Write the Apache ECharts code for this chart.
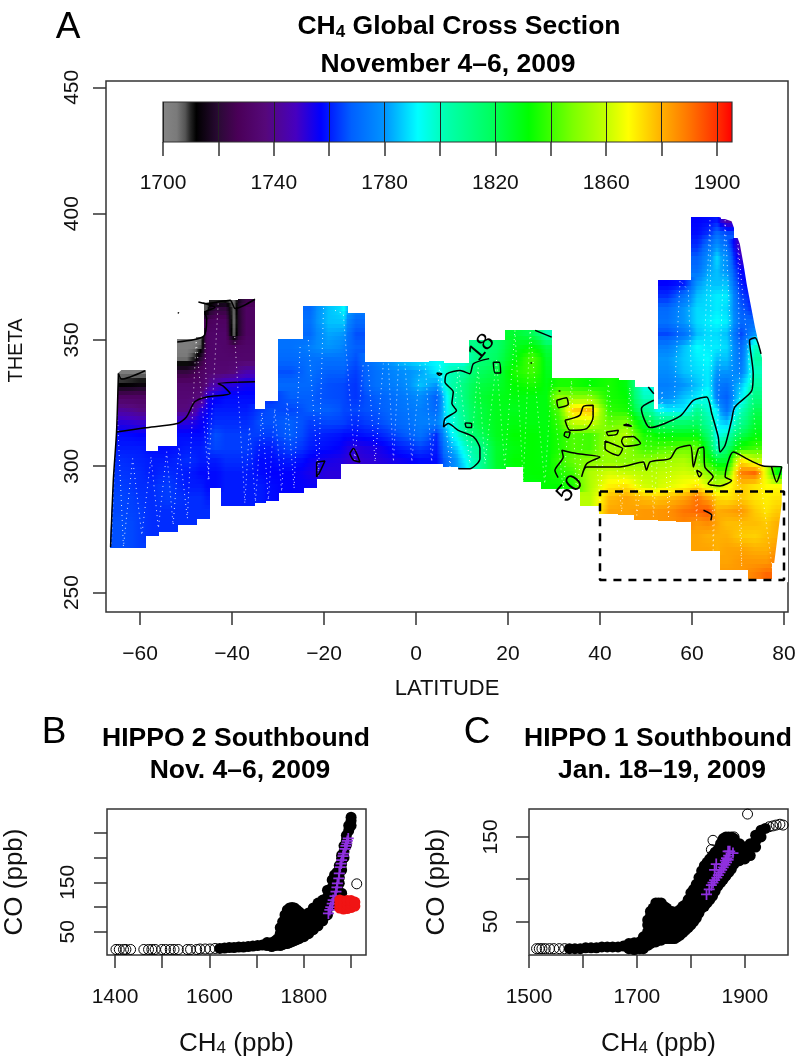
<!DOCTYPE html>
<html>
<head>
<meta charset="utf-8">
<style>html,body{margin:0;padding:0;background:#fff}#main{width:796px;height:1059px}</style>
<script src="https://cdn.jsdelivr.net/npm/echarts@6/dist/echarts.min.js"></script>
</head>
<body>
<div id="main"></div>
<script>
var FONT = '"Liberation Sans", Arial, sans-serif';

// colour scale of the CH4 section
var scaleLevels = [1700,1705,1708,1710,1712,1720,1727,1737,1748,1757,1768,1780,1792,1802,1818,1832,1848,1860,1868,1880,1890,1900,1905.4];
var scaleColors = ['#858585','#7a7a7a','#555555','#222222','#000000','#2a0a35','#4a0058','#56087a','#4600c0','#0000ff','#0060ff','#0094ff','#00ffff','#00ffb0','#00ff60','#00ff00','#7cff00','#c4ff00','#ffff00','#ffb000','#ff7400','#ff3000','#ff0000'];
var scaleTicks = [1700,1720,1740,1760,1780,1800,1820,1840,1860,1880,1900];
var scaleLabels = [1700,1740,1780,1820,1860,1900];

var latTicks = [-60,-40,-20,0,20,40,60,80];
var thetaTicks = [250,300,350,400,450];

// section columns: latitude edges, lower/upper theta limit, CH4 per 5 K band from floor(bottom/5)*5
var colEdges = [-66.5,-61.4,-58.8,-56,-51.9,-47.8,-45.9,-44.9,-42.3,-40.5,-38.5,-35,-32.8,-29.9,-24.5,-21.7,-16.5,-14.9,-11.3,-6,-1,3,5.9,9.2,11.7,15.5,19.5,23.3,27.3,29.5,32.5,35.7,40,44,47.5,51.6,52.7,56.7,59.8,62.2,64.6,66.1,69,72.2,75.2,77.3,79.6];
var colBottom = [267.7,268,272.7,274,277,279.4,279.4,291.7,284.6,284.6,284.6,285.5,286.5,289.5,291.5,295,301,301,301,301,301,301,299.7,299,299,299,299.7,293.8,291,291,291,284.6,281.3,281,279,279,278.7,278,266.8,266.8,266.8,259,259,255.6,255.6,262];
var colTop = [338,338,306,308,350,351,364,365.6,365.6,365.6,366,322.5,325.8,350,363.4,363.4,363.4,360.6,341,341,341,341.5,340.6,340.6,349.6,349.6,353.8,353.8,353.8,334.8,334.8,334.8,334.8,334,331,322.5,373.6,373.6,398.4,398.4,398.4,397.5,390,374,300,300];
var ch4Columns = [
[1766,1766,1766,1765,1765,1764,1763,1762,1760,1758,1752,1742,1730,1712,1704],
[1764,1764,1764,1764,1763,1762,1762,1761,1760,1757,1750,1738,1730,1714,1704],
[1762,1762,1762,1762,1762,1760,1760,1758],
[1762,1762,1762,1764,1764,1762,1760,1758],
[1762,1762,1762,1760,1760,1762,1760,1758,1752,1738,1735,1733,1722,1706,1703],
[1762,1762,1762,1760,1758,1760,1760,1758,1756,1752,1738,1732,1730,1720,1708,1704],
[1762,1762,1760,1758,1758,1760,1762,1760,1758,1755,1752,1738,1733,1732,1730,1730,1726,1708],
[1758,1758,1760,1765,1766,1762,1760,1756,1745,1735,1733,1733,1732,1730,1722,1704],
[1760,1760,1760,1760,1762,1764,1764,1762,1760,1758,1752,1735,1733,1732,1732,1730,1722,1706],
[1760,1760,1760,1760,1762,1764,1764,1762,1760,1758,1752,1737,1733,1730,1706,1705,1706,1706],
[1760,1760,1760,1760,1762,1764,1764,1762,1760,1758,1755,1745,1733,1732,1730,1730,1730,1722],
[1760,1760,1758,1758,1760,1764,1766,1764],
[1758,1758,1757,1758,1760,1764,1766,1766,1762],
[1757,1757,1757,1760,1765,1768,1768,1765,1768,1770,1766,1770,1772],
[1756,1754,1756,1760,1762,1764,1768,1768,1770,1772,1772,1775,1770,1772,1770],
[1752,1754,1758,1760,1765,1768,1766,1766,1768,1772,1780,1782,1785,1785],
[1752,1755,1758,1764,1765,1765,1765,1768,1772,1775,1780,1786,1792],
[1750,1752,1758,1762,1765,1763,1763,1764,1766,1768,1766,1770,1775],
[1752,1754,1760,1765,1767,1768,1772,1772,1775],
[1755,1760,1766,1770,1772,1773,1776,1778,1785],
[1758,1764,1772,1775,1775,1778,1785,1782,1790],
[1758,1760,1762,1775,1770,1768,1780,1790,1792],
[1778,1775,1782,1790,1795,1798,1800,1803,1802,1795],
[1785,1790,1796,1805,1808,1810,1812,1812,1805,1795],
[1805,1805,1808,1818,1822,1822,1824,1822,1818,1812,1810],
[1825,1826,1826,1828,1828,1828,1828,1825,1822,1818,1816],
[1830,1832,1830,1832,1830,1828,1830,1832,1835,1830,1828,1825],
[1830,1832,1832,1832,1832,1830,1830,1830,1835,1840,1842,1832,1820],
[1832,1832,1830,1830,1830,1830,1830,1830,1830,1828,1826,1822,1802],
[1832,1835,1838,1835,1835,1838,1842,1852,1835],
[1835,1840,1845,1842,1842,1860,1875,1850,1835],
[1858,1858,1856,1856,1850,1840,1840,1862,1878,1850,1832],
[1882,1878,1870,1862,1852,1855,1852,1845,1838,1835,1835],
[1882,1882,1872,1860,1850,1852,1858,1848,1835,1832,1830],
[1884,1884,1878,1862,1858,1850,1840,1835,1825,1810,1800,1795],
[1884,1884,1876,1860,1858,1852,1840,1832,1815,1795],
[1885,1885,1878,1864,1860,1854,1842,1830,1815,1790,1778,1775,1778,1780,1775,1765,1772,1770,1762,1757],
[1887,1890,1882,1868,1862,1856,1845,1830,1815,1790,1785,1780,1785,1786,1785,1772,1780,1780,1772,1760],
[1882,1882,1884,1892,1890,1872,1860,1848,1845,1830,1818,1808,1790,1785,1788,1790,1792,1785,1788,1788,1785,1780,1772,1768,1762,1758,1757],
[1882,1880,1886,1895,1882,1864,1850,1835,1825,1815,1805,1798,1795,1790,1790,1792,1790,1788,1790,1788,1788,1785,1782,1778,1772,1762,1758],
[1880,1880,1882,1880,1874,1858,1842,1825,1800,1792,1792,1790,1775,1775,1780,1785,1790,1788,1792,1790,1790,1785,1785,1788,1780,1770,1760],
[1884,1882,1882,1880,1878,1882,1872,1866,1842,1825,1815,1800,1785,1772,1768,1772,1780,1785,1788,1785,1790,1788,1790,1785,1780,1778,1772,1765,1745],
[1884,1884,1882,1876,1878,1884,1876,1876,1888,1872,1835,1820,1808,1800,1790,1785,1775,1772,1770,1765,1770,1768,1765,1760,1757,1750,1745],
[1888,1884,1880,1875,1878,1876,1872,1872,1892,1860,1840,1830,1825,1820,1812,1805,1800,1805,1800,1780,1770,1760,1757,1752],
[1892,1884,1880,1878,1876,1872,1870,1868,1862],
[1888,1884,1880,1880,1876,1872,1868,1830]
];

// parts of the columns where the section edge slants
var sectionEdges = [
[[64.6,399.5],[68.6,397],[70.4,388],[71.2,380],[71.9,372],[73.7,355],[75.2,343],[75.6,343],[75.6,402],[64.6,402]],
[[79.6,301],[79.5,285],[77.4,255],[81,254],[81,301]],
[[-66.6,267],[-65.8,294.5],[-65.1,313.6],[-64.7,337],[-63.5,339],[-67,339],[-67,267]]
];

// contour lines
var contours = [
[[15.9,342.6],[12.5,340.6],[11.7,336.6],[9.6,337.9],[6.7,336.6],[6.3,333.3],[8.1,329.4],[7.8,324.8],[8.8,322.1],[6.3,318.8],[6,315.5],[7,316.9],[9.2,314.2],[12.5,311.6],[13.9,307],[13.9,303],[11.7,299],[9.2,299]],
[[51.7,326.1],[49,322.8],[50.9,315.3],[57.4,319.8],[60.3,326.1],[63.2,327.4],[64.3,320.8],[65.7,311.6],[66.1,305.6],[67.2,308.3],[68.6,318.2],[69.3,323.4],[73,330],[73.3,336.6],[72.5,349.8],[73.7,350.9],[75,344.5]],
[[30.9,295.5],[30.2,298.4],[32,303.7],[31.7,306.3],[34.9,305],[40,303.7],[37.1,301],[36,295.8],[37.1,299.7],[44.3,299.7],[49.4,301.7],[50.1,298.4],[50.9,301.7],[55.2,303],[56.7,307],[59.6,308.3],[60.3,299.7],[61.4,307],[62.5,307.6],[62.8,299.7],[64.6,295.8],[63.5,293.1],[66.1,292.2],[68.6,294.4],[67.2,295.8],[69,305.6],[72.6,302.3],[75.5,300.1],[79.5,299.7],[78.4,293.8],[77.3,299.7]],
[[30.6,326.1],[32.7,327.1],[33.1,324.5],[31,323.2],[30.6,326.1]],
[[32.4,318.2],[35.6,320.1],[36.4,323.7],[38.5,324.1],[38.5,319.5],[37.1,314.9],[33.5,314.2],[32.4,318.2]],
[[32.4,313.6],[33.5,313.6],[33.1,311.3],[32.2,312.2],[32.4,313.6]],
[[41.4,313.6],[44,314.2],[43.6,312.6],[41.8,312.2],[41.4,313.6]],
[[45.1,311.6],[47.2,311.8],[48.8,309],[45.4,307.9],[44.7,310],[45.1,311.6]],
[[41.1,310],[44,307.9],[44.9,307],[44,304.3],[41.1,307],[41.1,310]],
[[45.1,316.2],[46.9,315.8],[45.8,316.6],[45.1,316.2]],
[[16.8,341.2],[18.1,341.2],[18.4,336.9],[17.2,336.9],[16.8,341.2]],
[[10.7,317.1],[12.1,316.9],[12.1,315.3],[10.9,315.5],[10.7,317.1]],
[[4.5,336.9],[5.6,336.6],[5.1,336],[4.5,336.9]],
[[61,298.4],[62.1,297],[61.6,295.8],[61,298.4]],
[[62.5,282.6],[64.3,280.6],[64.1,278.6]],
[[50.5,331.4],[51.7,328.7]],
[[25.9,353.8],[29.5,351.1]],
[[-65.1,313.6],[-58.9,315.2],[-51.9,316.9],[-49.9,319.5],[-48.1,325.5],[-45.5,327.4],[-40.4,328.8],[-41.9,331.7],[-43,332.7],[-35,333.4]],
[[-64.7,336.7],[-65.1,313.6],[-65.8,294.5],[-66.4,268]],
[[-51.9,349.2],[-46.2,351.4],[-45.5,358.4],[-45.9,361],[-43.7,362.8],[-47.3,365],[-45.5,364.4],[-40.4,365.7],[-39.3,362.4],[-35,366.1]],
[[-64.7,336.7],[-64,334.5],[-58.9,337.8]],
[[-21.6,301.7],[-19.8,302.1],[-20.9,297.8],[-21.6,295.8],[-21.6,301.7]],
[[-14.4,305],[-13.6,307],[-12.2,301.7],[-13.6,302.4],[-14.4,305]],
[[-51.8,360.8],[-51.5,360.6]],
[[24.9,340.9],[25.2,340.9]],
[[31,329.8],[31.4,329.8]]
];
var contourLabels = [
{lat:14.3, theta:347, text:'18', rot:50},
{lat:33.5, theta:291.1, text:'50', rot:50}
];

// aircraft profiles (dotted white)
var flightTrack = [[-66.2,269.4],[-65,323.5],[-63.6,268.1],[-61.6,303],[-59.6,272.7],[-57.6,303.7],[-56,275.4],[-54.2,305.7],[-52.8,276.7],[-51.5,307.7],[-49.7,279.3],[-47.8,349.9],[-45,294.5],[-45.9,349.9],null,[-43,364.4],[-45.2,294.5],null,[-39.4,351.2],[-37.2,285.3],[-36.2,315.6],[-34.9,285.9],[-33.5,321.5],[-32.1,286.6],[-30.7,322.8],[-29.2,289.9],[-28,325.5],[-26.5,291.2],[-25.2,347.2],null,[-23.4,349.9],[-21.2,295.8],[-20.1,363],null,[-17.6,361.7],[-15.8,360.4],[-13.3,302.4],[-11.5,340],null,[-10.4,340],[-8.9,301.7],[-7.1,340.6],null,[-6,340.6],[-4.9,301.7],[-3.8,340.6],null,[-2.4,340.6],[-0.9,301.7],[0.9,340.6],null,[2,340.6],[3.4,301.7],[5.2,340.6],[7.4,299.7],[9.2,339.3],[11.7,301],[13.5,339],[15,301],[17.5,342],[19.3,299.7],[21.5,353.8],[23.3,293.8],[24.8,353.8],[28,293],[29.5,334],[32,290.5],[33.8,334],[34.9,289],[37.8,334],[40,286.5],[41.8,332.7],[44.7,281.9],[46.5,331.4],[48,280.6],[50.9,320.8],[51.6,279.9],[53.5,330],[54.9,279.9],[57.4,373.6],[59.2,369.6],[61,278.6],[63.9,397.3],[64.6,266.7],[67.2,397.3],[70.8,260.2],[70,388],[74.5,300],[77.7,256.2]];

var boxLat = [40,80,80,40,40];
var boxTheta = [290,290,255,255,290];

// panel B
var bTicksX = [1400,1500,1600,1700,1800,1900];
var bLabelsX = [1400,1600,1800];
var bTicksY = [50,100,150,200,250];
var bLabelsY = [50,150];
var bOpen = [[1402,14],[1409,14],[1418,14],[1423,14],[1433,14],[1461,14],[1471,14],[1478,14],[1485,14],[1499,14],[1507,14],[1517,14],[1525,14],[1534,14],[1553,14],[1560,14],[1573,14],[1580,15],[1591,15],[1601,15],[1612,16],[1912,147]];
var bDense = [
[1622,[16]],[1632,[17]],[1642,[18]],[1652,[18]],[1662,[19]],[1672,[19]],[1682,[20]],[1692,[21]],[1702,[22]],[1712,[23]],[1722,[22,28]],[1732,[20,28]],
[1740,[22,32]],[1745,[24,36]],[1750,[22,34,46,58]],[1755,[24,36,48,60,70]],[1760,[26,38,50,62,74,84]],[1765,[26,38,50,62,74,86,94]],[1770,[28,40,52,64,76,88,98]],[1775,[30,42,54,66,78,90,99]],[1780,[32,44,56,68,80,92,98]],[1785,[34,46,58,70,82,94]],[1790,[36,48,60,72,84,90]],[1800,[40,52,64,76,84]],[1810,[46,58,70,82,88]],[1820,[54,66,78,90,98]],[1830,[62,74,86,98,108]],[1840,[72,84,96,108,114]],[1850,[84,96,108,120,134]],[1860,[104,116,128,140,155]],[1865,[114,126,138,150,165]],[1870,[120,130,142,154,170]],[1875,[128,148,160,172,184]],[1880,[128,175,187,199,205]],[1885,[200,212,224]],[1890,[225,235,245]],[1895,[255,265]],[1900,[265,275,282]]
];
var bPurple = [[1852,87],[1855,94],[1857,100],[1860,107],[1862,114],[1866,122],[1868,131],[1870,140],[1871,148],[1874,158],[1875,168],[1877,181],[1879,188],[1880,195],[1883,203],[1884,208],[1887,218],[1889,224],[1891,229],[1892,234],[1894,239]];
var bRed = [[1876,98],[1876,106],[1876,114],[1884,96],[1884,104],[1884,112],[1892,97],[1892,105],[1892,113],[1900,99],[1900,107],[1900,113],[1908,102],[1908,110]];

// panel C
var cTicksX = [1500,1600,1700,1800,1900];
var cLabelsX = [1500,1700,1900];
var cTicksY = [50,100,150];
var cLabelsY = [50,150];
var cOpen = [[1514,18],[1519,18],[1524,18],[1530,18],[1538,18],[1546,18],[1556,18],[1566,18],[1841,146],[1838,135],[1905,177],[1880,150],[1945,162],[1952,163],[1958,164],[1965,165],[1971,164]];
var cDense = [
[1575,[18]],[1585,[18]],[1595,[18]],[1605,[19]],[1615,[19]],[1625,[19]],[1635,[20]],[1645,[20]],[1655,[20]],[1665,[20]],[1675,[21]],[1685,[18,24]],[1695,[17,25]],[1705,[18,26]],[1712,[18,26,32]],
[1720,[22,30,38,46,52]],[1725,[24,32,40,48,56,62]],[1730,[26,34,42,50,58,66]],[1735,[26,34,42,50,58,66,72]],[1740,[28,36,44,52,60,68,72]],[1745,[28,36,44,52,60,68,72]],[1750,[30,38,46,54,62,68]],[1755,[30,66]],[1760,[30,38,46,54,62]],[1765,[30,62]],[1770,[30,38,46,54,60]],[1775,[32,62]],[1780,[34,42,50,58,64]],[1785,[37,68]],[1790,[40,48,56,64,70]],[1795,[43,76]],[1800,[46,54,62,70,78,84]],[1805,[50,88]],[1810,[54,62,70,78,86,94]],[1815,[60,102]],[1820,[66,74,82,90,98,110]],[1825,[68,116]],[1830,[72,80,88,96,104,112,120]],[1835,[76,124]],[1840,[80,88,96,104,112,120,128]],[1845,[86,132]],[1850,[92,100,108,116,124,135]],[1855,[96,142]],[1860,[100,108,116,124,132,140,148]],[1865,[104,150]],[1870,[108,116,124,132,140,150]],[1875,[112,150]],[1880,[118,126,134,142,148]],[1890,[122,130,138,142]],[1900,[124,132,138]],[1910,[128,136,142]],[1920,[138,145,152]],[1930,[150,158]],[1938,[160]]
];
var cPurple = [[1829,82],[1834,88],[1838,93],[1841,96],[1844,99],[1848,102],[1851,105],[1854,108],[1857,111],[1860,114],[1863,117],[1866,120],[1869,123],[1872,133],[1869,133],[1878,131],[1847,118],[1844,111],[1866,125],[1870,128],[1864,122],[1860,118]];

function valueColor(v) {
    var i = 0;
    while (i < scaleLevels.length - 2 && v > scaleLevels[i + 1]) i++;
    var f = (v - scaleLevels[i]) / (scaleLevels[i + 1] - scaleLevels[i]);
    f = Math.max(0, Math.min(1, f));
    var a = echarts.color.parse(scaleColors[i]), b = echarts.color.parse(scaleColors[i + 1]);
    return 'rgb(' + Math.round(a[0] + (b[0] - a[0]) * f) + ',' + Math.round(a[1] + (b[1] - a[1]) * f) + ',' + Math.round(a[2] + (b[2] - a[2]) * f) + ')';
}

function bandValue(c, theta) {
    var list = ch4Columns[c];
    if (!list) return null;
    var base = Math.floor(colBottom[c] / 5) * 5;
    var k = Math.round((theta - base) / 5);
    if (k < 0 || k >= list.length) return null;
    return list[k];
}
// colour shading inside a band towards its neighbours
function shaded(c, theta, f) {
    var v = bandValue(c, theta);
    if (v === null) return null;
    var n = bandValue(c, theta + (f > 0 ? 5 : -5));
    if (n === null || f === 0) return v;
    return v + (n - v) * Math.abs(f);
}
function cellStops(c, theta, f) {
    var v = shaded(c, theta, f);
    var l = shaded(c - 1, theta, f), r = shaded(c + 1, theta, f);
    if (l === null) l = v;
    if (r === null) r = v;
    return [
        {offset: 0, color: valueColor((v + l) / 2)},
        {offset: 0.25, color: valueColor((3 * v + l) / 4)},
        {offset: 0.5, color: valueColor(v)},
        {offset: 0.75, color: valueColor((3 * v + r) / 4)},
        {offset: 1, color: valueColor((v + r) / 2)}
    ];
}

var cells = [];
ch4Columns.forEach(function (list, c) {
    var base = Math.floor(colBottom[c] / 5) * 5;
    list.forEach(function (v, k) {
        cells.push([colEdges[c], colEdges[c + 1], base + k * 5, v, c]);
    });
});

function renderCell(params, api) {
    var lat0 = api.value(0), lat1 = api.value(1), t = api.value(2), c = api.value(4);
    var x0 = Math.floor(api.coord([lat0, t])[0]), x1 = Math.ceil(api.coord([lat1, t])[0]);
    var kids = [];
    for (var s = 0; s < 3; s++) {
        var lo = Math.max(t + s * 5 / 3, colBottom[c]);
        var hi = Math.min(t + (s + 1) * 5 / 3, colTop[c]);
        if (hi <= lo) continue;
        var yb = api.coord([lat0, lo])[1], yt = api.coord([lat0, hi])[1];
        kids.push({
            type: 'rect',
            shape: {x: x0, y: Math.floor(yt), width: x1 - x0, height: Math.ceil(yb) - Math.floor(yt)},
            style: {fill: {type: 'linear', x: 0, y: 0, x2: 1, y2: 0, colorStops: cellStops(c, t, (s - 1) / 3)}}
        });
    }
    return {type: 'group', children: kids};
}

function flatten(cols) {
    var out = [];
    cols.forEach(function (col) {
        col[1].forEach(function (co) { out.push([col[0], co]); });
    });
    return out;
}

var CROSS = 'path://M4.2 0h1.6v4.2h4.2v1.6h-4.2v4.2h-1.6v-4.2h-4.2v-1.6h4.2z';
var LINE = '#333';
var PURPLE = '#9030e0';

function axisCommon(ticks, labels, tickLen, margin, rotate) {
    return {
        axisLine: {show: false, onZero: false},
        axisTick: {show: true, length: tickLen, customValues: ticks, lineStyle: {color: LINE, width: 1.5}},
        axisLabel: {
            show: true, customValues: labels, margin: margin, rotate: rotate || 0,
            fontFamily: FONT, fontSize: 21, color: '#111',
            formatter: function (v) { return String(v).replace('-', '\u2212'); }
        },
        splitLine: {show: false}
    };
}

function bandName(text) {
    return {
        name: text, nameLocation: 'middle',
        nameTextStyle: {fontFamily: FONT, fontSize: 26, color: '#111', rich: {
            a: {fontFamily: FONT, fontSize: 26, color: '#111'},
            s: {fontFamily: FONT, fontSize: 17, color: '#111', padding: [10, 0, 0, 0]}
        }}
    };
}

function head(text, x, y, size, bold) {
    return {
        text: text, left: x, top: y, textAlign: 'center', textVerticalAlign: 'middle', padding: 0,
        textStyle: {fontFamily: FONT, fontSize: size, fontWeight: bold ? 'bold' : 'normal', color: '#000',
            rich: {
                n: {fontFamily: FONT, fontSize: size, fontWeight: 'bold', color: '#000'},
                s: {fontFamily: FONT, fontSize: 17, fontWeight: 'bold', color: '#000', padding: [11, 0, 0, 0]}
            }}
    };
}

function ringSeries(grid, data) {
    return {type: 'scatter', xAxisIndex: grid, yAxisIndex: grid, data: data, symbol: 'circle', symbolSize: 10, silent: true, z: 2,
        itemStyle: {color: 'rgba(255,255,255,0)', borderColor: '#000', borderWidth: 1, opacity: 1}};
}
function blobSeries(grid, data, color, z) {
    return {type: 'scatter', xAxisIndex: grid, yAxisIndex: grid, data: data, symbol: 'circle', symbolSize: 11, silent: true, z: z,
        itemStyle: {color: color, opacity: 1}};
}
function crossSeries(grid, data) {
    return {type: 'scatter', xAxisIndex: grid, yAxisIndex: grid, data: data, symbol: CROSS, symbolSize: 11, silent: true, z: 3,
        itemStyle: {color: PURPLE, opacity: 1}};
}

var chart = echarts.init(document.getElementById('main'), null, {renderer: 'canvas'});

var xA = axisCommon(latTicks, latTicks, 13, 32);
var yA = axisCommon(thetaTicks, thetaTicks, 13, 23, 90);
var xS = axisCommon(scaleTicks, scaleLabels, 14, 31);

var xB = axisCommon(bTicksX, bLabelsX, 13, 32);
var yB = axisCommon(bTicksY, bLabelsY, 13, 28, 90);
var xC = axisCommon(cTicksX, cLabelsX, 13, 32);
var yC = axisCommon(cTicksY, cLabelsY, 13, 27, 90);

var option = {
    animation: false,
    backgroundColor: '#fff',
    title: [
        head('A', 68, 28, 37),
        head('{n|CH}{s|4}{n| Global Cross Section}', 459, 27, 26.5, true),
        head('November 4\u20136, 2009', 448, 65, 26.5, true),
        head('B', 54, 733, 37),
        head('HIPPO 2 Southbound', 236, 739, 26.5, true),
        head('Nov. 4\u20136, 2009', 240, 771, 26.5, true),
        head('C', 477, 733, 37),
        head('HIPPO 1 Southbound', 658, 739, 26.5, true),
        head('Jan. 18\u201319, 2009', 662, 771, 26.5, true)
    ],
    grid: [
        {left: 106, top: 81, width: 682, height: 531, show: true, borderColor: LINE, borderWidth: 1.5, backgroundColor: '#fff', outerBoundsMode: 'none'},
        {left: 163, top: 102, width: 569, height: 40, show: true, borderColor: LINE, borderWidth: 1.2, z: 5, outerBoundsMode: 'none'},
        {left: 107, top: 809, width: 259, height: 146, show: true, borderColor: LINE, borderWidth: 1.5, outerBoundsMode: 'none'},
        {left: 529, top: 809, width: 259, height: 146, show: true, borderColor: LINE, borderWidth: 1.5, outerBoundsMode: 'none'}
    ],
    xAxis: [
        Object.assign({type: 'value', gridIndex: 0, min: -67.39, max: 80.87, name: 'LATITUDE', nameLocation: 'middle', nameGap: 66,
            nameTextStyle: {fontFamily: FONT, fontSize: 22, color: '#111'}}, xA),
        Object.assign({type: 'value', gridIndex: 1, min: 1700, max: 1905.4, z: 6}, xS, {splitLine: {show: true, lineStyle: {color: '#222', width: 1}}}),
        Object.assign({type: 'value', gridIndex: 2, min: 1383, max: 1931.6, nameGap: 75}, xB, bandName('{a|CH}{s|4}{a| (ppb)}')),
        Object.assign({type: 'value', gridIndex: 3, min: 1500, max: 1980, nameGap: 75}, xC, bandName('{a|CH}{s|4}{a| (ppb)}'))
    ],
    yAxis: [
        Object.assign({type: 'value', gridIndex: 0, min: 242.3, max: 452.5, name: 'THETA', nameLocation: 'middle', nameGap: 80,
            nameTextStyle: {fontFamily: FONT, fontSize: 20, color: '#111', padding: [0, 8, 0, 0]}}, yA),
        {type: 'value', gridIndex: 1, min: 0, max: 1, show: false},
        Object.assign({type: 'value', gridIndex: 2, min: 2.8, max: 298.6, nameGap: 79}, yB, bandName('CO (ppb)')),
        Object.assign({type: 'value', gridIndex: 3, min: 10.5, max: 183, nameGap: 79}, yC, bandName('CO (ppb)'))
    ],
    series: [
        {
            type: 'custom', name: 'CH4 section', xAxisIndex: 0, yAxisIndex: 0, clip: true, silent: true,
            encode: {x: [0, 1], y: 2}, data: cells, renderItem: renderCell, z: 1
        },
        {
            type: 'custom', name: 'section edge', xAxisIndex: 0, yAxisIndex: 0, clip: true, silent: true, z: 2,
            data: sectionEdges.map(function (p, i) { return [i]; }),
            renderItem: function (params, api) {
                var pts = sectionEdges[api.value(0)].map(function (p) { return api.coord(p); });
                return {type: 'polygon', shape: {points: pts}, style: {fill: '#fff'}};
            }
        },
        {
            type: 'line', name: 'flights', xAxisIndex: 0, yAxisIndex: 0, data: flightTrack.map(function (p) { return p === null ? ['-', '-'] : p; }),
            showSymbol: false, silent: true, z: 3, connectNulls: false,
            lineStyle: {color: '#fff', width: 1, type: [1, 4], opacity: 0.85}
        }
    ].concat(contours.map(function (c) {
        return {type: 'line', xAxisIndex: 0, yAxisIndex: 0, data: c, showSymbol: false, silent: true, z: 4, smooth: 0.25,
            lineStyle: {color: '#000', width: 1.5}};
    })).concat([
        {
            type: 'custom', name: 'contour labels', xAxisIndex: 0, yAxisIndex: 0, silent: true, z: 4,
            data: contourLabels.map(function (l) { return [l.lat, l.theta]; }),
            renderItem: function (params, api) {
                var p = api.coord([api.value(0), api.value(1)]);
                var l = contourLabels[params.dataIndex];
                return {type: 'text', x: p[0], y: p[1], rotation: l.rot * Math.PI / 180,
                    style: {text: l.text, fontFamily: FONT, fontSize: 24, fill: '#000', align: 'center', verticalAlign: 'middle'}};
            }
        },
        {
            type: 'line', name: 'box', xAxisIndex: 0, yAxisIndex: 0, showSymbol: false, silent: true, z: 4,
            data: boxLat.map(function (v, i) { return [v, boxTheta[i]]; }),
            lineStyle: {color: '#000', width: 2.5, type: [8, 7]}
        },
        {
            type: 'custom', name: 'scale', xAxisIndex: 1, yAxisIndex: 1, silent: true, z: 1,
            data: [[1700, 1905.4]],
            renderItem: function (params, api) {
                var a = api.coord([api.value(0), 1]), b = api.coord([api.value(1), 0]);
                return {
                    type: 'rect', shape: {x: a[0], y: a[1], width: b[0] - a[0], height: b[1] - a[1]},
                    style: {fill: {type: 'linear', x: 0, y: 0, x2: 1, y2: 0, colorStops: scaleLevels.map(function (v, i) {
                        return {offset: Math.min(1, (v - 1700) / 205.4), color: scaleColors[i]};
                    })}}
                };
            }
        },
        ringSeries(2, bOpen),
        blobSeries(2, flatten(bDense), '#000', 2),
        crossSeries(2, bPurple),
        blobSeries(2, bRed, '#f01414', 3),
        ringSeries(3, cOpen),
        blobSeries(3, flatten(cDense), '#000', 2),
        crossSeries(3, cPurple)
    ])
};
chart.setOption(option);
</script>
</body>
</html>
